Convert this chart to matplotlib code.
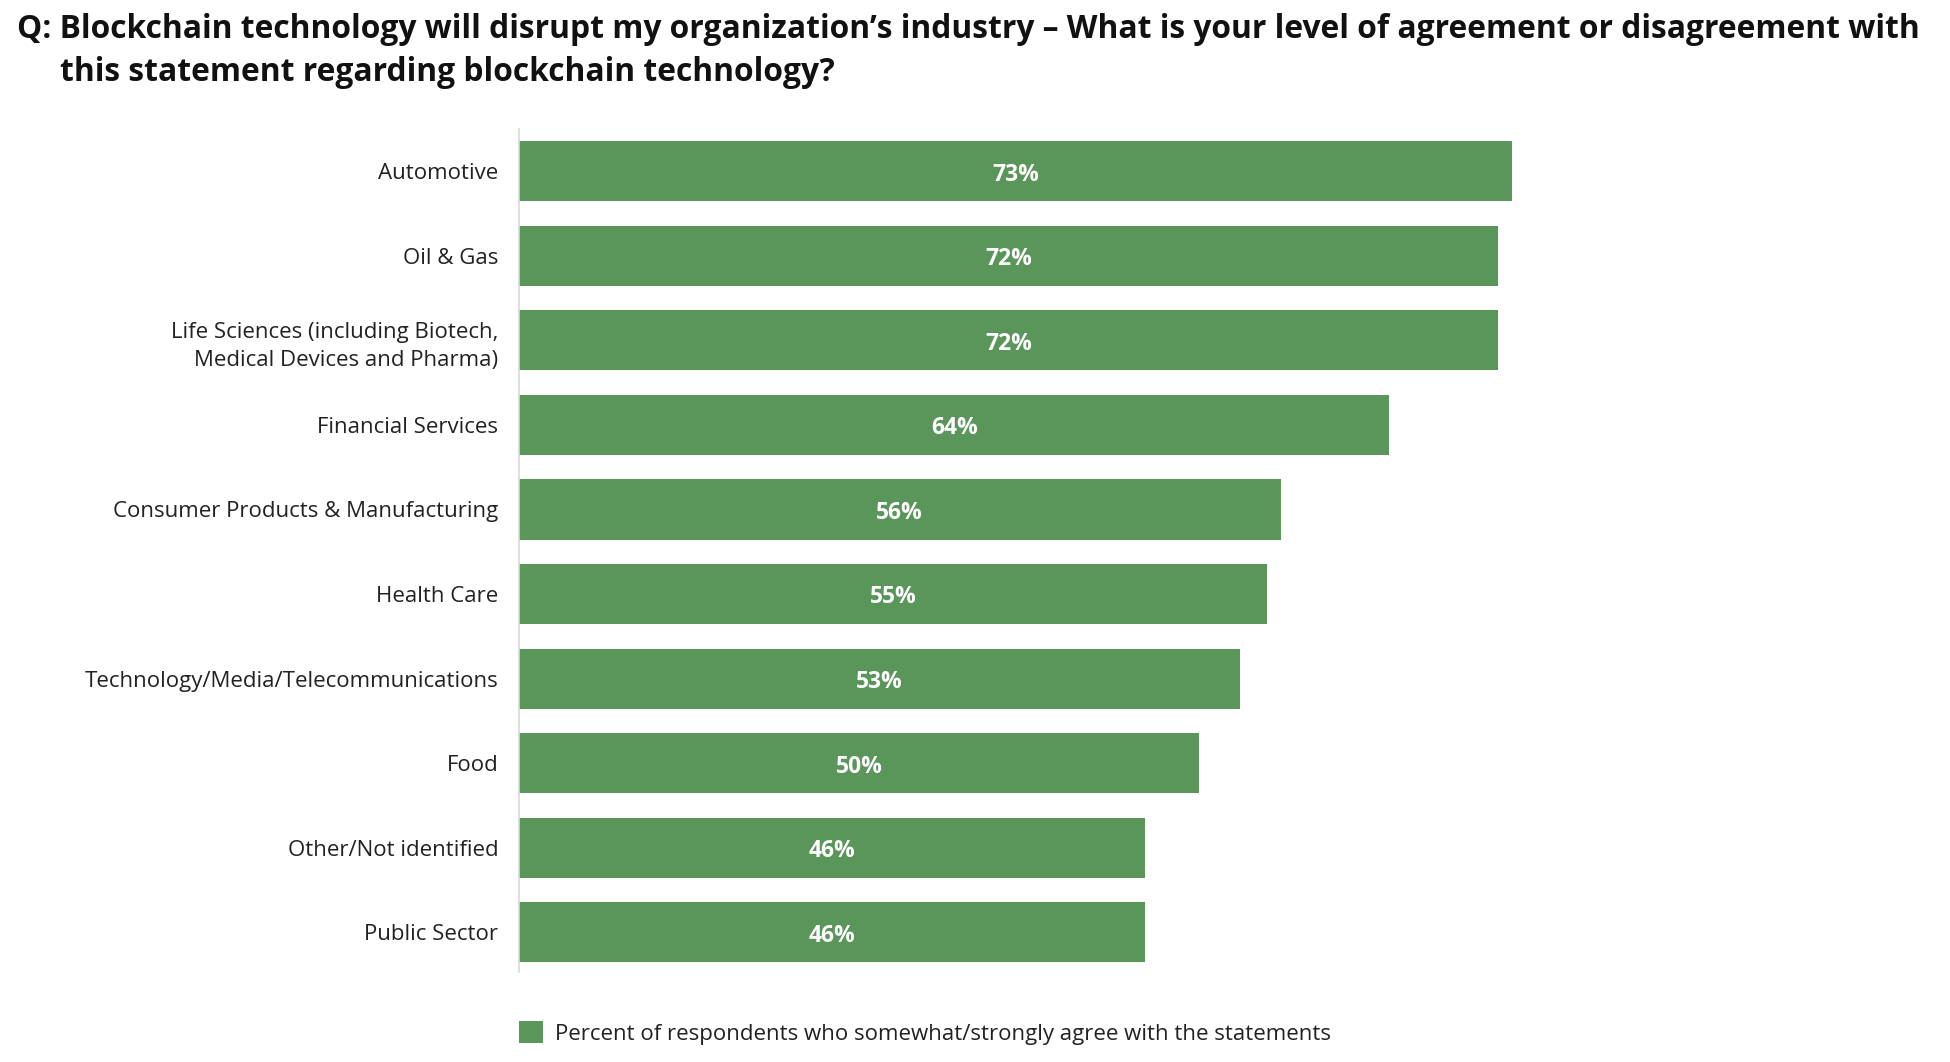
import matplotlib.pyplot as plt
import numpy as np

plt.rcParams["font.family"] = ["Open Sans", "DejaVu Sans"]

categories = [
    "Automotive",
    "Oil & Gas",
    "Life Sciences (including Biotech,\nMedical Devices and Pharma)",
    "Financial Services",
    "Consumer Products & Manufacturing",
    "Health Care",
    "Technology/Media/Telecommunications",
    "Food",
    "Other/Not identified",
    "Public Sector",
]
agree_pct = [73, 72, 72, 64, 56, 55, 53, 50, 46, 46]
legend_label = "Percent of respondents who somewhat/strongly agree with the statements"
title_line1 = "Q: Blockchain technology will disrupt my organization\u2019s industry \u2013 What is your level of agreement or disagreement with"
title_line2 = "this statement regarding blockchain technology?"

green = "#5a955a"

fig = plt.figure(figsize=(19.5, 10.62), dpi=100)
ax = fig.add_axes([519 / 1950, 90 / 1062, 1360 / 1950, 843 / 1062])

y = np.arange(len(categories))
bars = ax.barh(y, agree_pct, height=0.71, color=green, label=legend_label)

for rect, v in zip(bars, agree_pct):
    ax.text(rect.get_width() / 2, rect.get_y() + rect.get_height() / 2 + 0.04, f"{v}%",
            ha="center", va="center", color="white", fontsize=16.5, fontweight="bold")

ax.set_xlim(0, 100)
ax.set_ylim(len(categories) - 0.53, -0.5)
ax.set_yticks(y)
ax.set_yticklabels(categories, fontsize=16, color="#222222", linespacing=1.45)
ax.tick_params(axis="y", length=0, pad=15)
ax.set_xticks([])
for side in ["top", "right", "bottom"]:
    ax.spines[side].set_visible(False)
ax.spines["left"].set_color("#d9d9d9")
ax.spines["left"].set_linewidth(1.2)

fig.text(17 / 1950, 1 - 29 / 1062, title_line1, fontsize=22.9, fontweight="bold",
         ha="left", va="center", color="#111111")
fig.text(60 / 1950, 1 - 73 / 1062, title_line2, fontsize=22.9, fontweight="bold",
         ha="left", va="center", color="#111111")

fig.legend(handles=[bars], labels=[legend_label], loc="center left",
           bbox_to_anchor=(499 / 1950, 1 - 1033 / 1062), frameon=False, fontsize=16,
           handlelength=1.1, handleheight=1.1, handletextpad=0.5, labelcolor="#222222")

fig.savefig("out.png", dpi=100)
